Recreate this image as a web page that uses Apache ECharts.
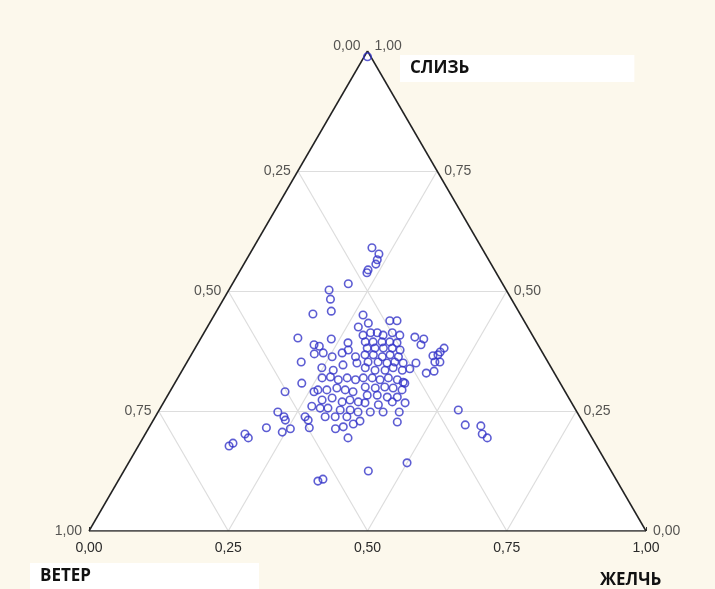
<!DOCTYPE html>
<html>
<head>
<meta charset="utf-8">
<title>Тройная диаграмма</title>
<script src="https://cdn.jsdelivr.net/npm/echarts@6/dist/echarts.min.js"></script>
</head>
<body style="margin:0;background:#fcf8ec;">
<div id="chart" style="width:715px;height:589px;"></div>
<script>
// доли компонентов: СЛИЗЬ и ЖЕЛЧЬ, ВЕТЕР = 1 - СЛИЗЬ - ЖЕЛЧЬ
const slime = [
  0.988, 0.590, 0.577, 0.565, 0.556, 0.544, 0.538, 0.515, 0.502, 0.483,
  0.458, 0.452, 0.450, 0.438, 0.438, 0.433, 0.425, 0.402, 0.388, 0.369,
  0.352, 0.308, 0.290, 0.290, 0.260, 0.248, 0.238, 0.238, 0.404, 0.400,
  0.388, 0.381, 0.373, 0.365, 0.367, 0.352, 0.352, 0.350, 0.338, 0.333,
  0.329, 0.308, 0.267, 0.252, 0.183, 0.177, 0.202, 0.194, 0.215, 0.206,
  0.213, 0.231, 0.231, 0.215, 0.213, 0.217, 0.223, 0.229, 0.194, 0.227,
  0.221, 0.219, 0.202, 0.194, 0.104, 0.108, 0.125, 0.142, 0.400, 0.385,
  0.371, 0.363, 0.371, 0.392, 0.377, 0.363, 0.350, 0.346, 0.335, 0.340,
  0.408, 0.413, 0.413, 0.408, 0.413, 0.408, 0.394, 0.394, 0.394, 0.394,
  0.392, 0.381, 0.381, 0.381, 0.381, 0.377, 0.367, 0.367, 0.363, 0.367,
  0.363, 0.352, 0.352, 0.350, 0.352, 0.350, 0.340, 0.335, 0.335, 0.340,
  0.335, 0.319, 0.321, 0.315, 0.319, 0.315, 0.294, 0.294, 0.298, 0.294,
  0.290, 0.273, 0.277, 0.269, 0.273, 0.269, 0.256, 0.256, 0.252, 0.252,
  0.248, 0.238, 0.238, 0.238, 0.319, 0.319, 0.315, 0.319, 0.315, 0.310,
  0.300, 0.298, 0.300, 0.298, 0.294, 0.283, 0.283, 0.279, 0.279, 0.267,
  0.263, 0.269, 0.248, 0.248, 0.248
];
const bile = [
  0.006, 0.213, 0.232, 0.235, 0.237, 0.229, 0.230, 0.208, 0.180, 0.192,
  0.206, 0.176, 0.267, 0.321, 0.334, 0.285, 0.271, 0.174, 0.210, 0.220,
  0.205, 0.228, 0.207, 0.259, 0.270, 0.215, 0.231, 0.269, 0.383, 0.401,
  0.402, 0.447, 0.444, 0.435, 0.443, 0.445, 0.454, 0.412, 0.407, 0.453,
  0.441, 0.413, 0.434, 0.537, 0.167, 0.163, 0.179, 0.189, 0.211, 0.244,
  0.255, 0.237, 0.278, 0.288, 0.336, 0.348, 0.363, 0.372, 0.368, 0.440,
  0.565, 0.594, 0.605, 0.618, 0.359, 0.366, 0.439, 0.500, 0.235, 0.221,
  0.235, 0.255, 0.269, 0.269, 0.277, 0.297, 0.306, 0.283, 0.271, 0.248,
  0.288, 0.299, 0.311, 0.324, 0.338, 0.354, 0.299, 0.313, 0.329, 0.343,
  0.357, 0.309, 0.323, 0.338, 0.354, 0.370, 0.312, 0.327, 0.345, 0.357,
  0.374, 0.325, 0.343, 0.360, 0.373, 0.389, 0.326, 0.346, 0.364, 0.376,
  0.395, 0.259, 0.273, 0.290, 0.304, 0.321, 0.264, 0.280, 0.296, 0.313,
  0.329, 0.282, 0.298, 0.320, 0.332, 0.349, 0.287, 0.301, 0.325, 0.343,
  0.359, 0.305, 0.323, 0.344, 0.333, 0.349, 0.365, 0.378, 0.396, 0.409,
  0.346, 0.365, 0.381, 0.397, 0.415, 0.358, 0.376, 0.396, 0.414, 0.362,
  0.388, 0.410, 0.381, 0.404, 0.433
];
const ticks = [0, 0.25, 0.5, 0.75, 1];
const levels = [0.25, 0.5, 0.75];

// (желчь, слизь) -> декартовы координаты треугольника
const toXY = (b, s) => [b + s / 2, s];
const fmt = v => v.toFixed(2).replace('.', ',');

const gridLines = [];
levels.forEach(c => {
  gridLines.push({ coords: [toXY(0, c), toXY(1 - c, c)] });     // слизь = c
  gridLines.push({ coords: [toXY(c, 0), toXY(c, 1 - c)] });     // желчь = c
  gridLines.push({ coords: [toXY(1 - c, 0), toXY(0, 1 - c)] }); // ветер = c
});
const edges = [
  { coords: [toXY(0, 0), toXY(0, 1)] },
  { coords: [toXY(0, 1), toXY(1, 0)] },
  { coords: [toXY(0, 0), toXY(1, 0)] }
];

const labelStyle = { color: '#2a2a2a', fontSize: 14, fontFamily: 'Liberation Sans' };
const nameStyle = { fontSize: 17, fontWeight: 'bold', color: '#111', fontFamily: 'Open Sans' };

const chart = echarts.init(document.getElementById('chart'));
chart.setOption({
  backgroundColor: '#fcf8ec',
  animation: false,
  title: [
    {
      text: 'СЛИЗЬ', left: 400, top: 55,
      backgroundColor: '#fff', padding: [5, 165, 5, 10], textStyle: nameStyle
    },
    {
      text: 'ВЕТЕР', left: 30, top: 563,
      backgroundColor: '#fff', padding: [5, 168, 5, 10], textStyle: nameStyle
    },
    {
      text: 'ЖЕЛЧЬ', left: 600, top: 572, padding: 0, textStyle: nameStyle
    }
  ],
  grid: { left: 89, right: 69, top: 51, bottom: 58 },
  xAxis: {
    type: 'value', min: 0, max: 1, interval: 0.25,
    axisLine: { show: false },
    axisTick: { show: true, inside: true, length: 4, lineStyle: { color: '#333' } },
    minorTick: { show: true, splitNumber: 4, length: 3, lineStyle: { color: '#333' } },
    splitLine: { show: false },
    axisLabel: { margin: 10, formatter: fmt, ...labelStyle }
  },
  yAxis: { type: 'value', min: 0, max: 1, show: false },
  series: [
    {
      // белая заливка треугольника
      type: 'line', silent: true, symbol: 'none', z: 1,
      data: [toXY(0, 0), toXY(0, 1), toXY(1, 0)],
      lineStyle: { opacity: 0 },
      areaStyle: { color: '#fff', opacity: 1 }
    },
    {
      type: 'lines', coordinateSystem: 'cartesian2d', silent: true, z: 2,
      data: gridLines,
      lineStyle: { color: '#dddddd', width: 1.2, opacity: 1 }
    },
    {
      type: 'lines', coordinateSystem: 'cartesian2d', silent: true, z: 3,
      data: edges,
      lineStyle: { color: '#222', width: 1.5, opacity: 1 }
    },
    {
      // подписи шкалы ВЕТЕР (левая сторона)
      type: 'scatter', silent: true, symbolSize: 0, z: 4,
      data: ticks.map(c => ({
        name: fmt(1 - c), value: toXY(0, c),
        label: { offset: c === 1 ? [0, -5] : [0, 0] }
      })),
      label: { show: true, position: 'left', distance: 7, formatter: '{b}', ...labelStyle }
    },
    {
      // подписи шкалы СЛИЗЬ (правая сторона)
      type: 'scatter', silent: true, symbolSize: 0, z: 4,
      data: ticks.map(c => ({
        name: fmt(c), value: toXY(1 - c, c),
        label: { offset: c === 1 ? [0, -5] : [0, 0] }
      })),
      label: { show: true, position: 'right', distance: 7, formatter: '{b}', ...labelStyle }
    },
    {
      type: 'scatter', z: 5,
      symbol: 'circle', symbolSize: 7.5,
      data: slime.map((s, i) => toXY(bile[i], s)),
      itemStyle: { color: 'rgba(0,0,0,0)', borderColor: '#3434c8', borderWidth: 1.6 }
    }
  ]
});
</script>
</body>
</html>
